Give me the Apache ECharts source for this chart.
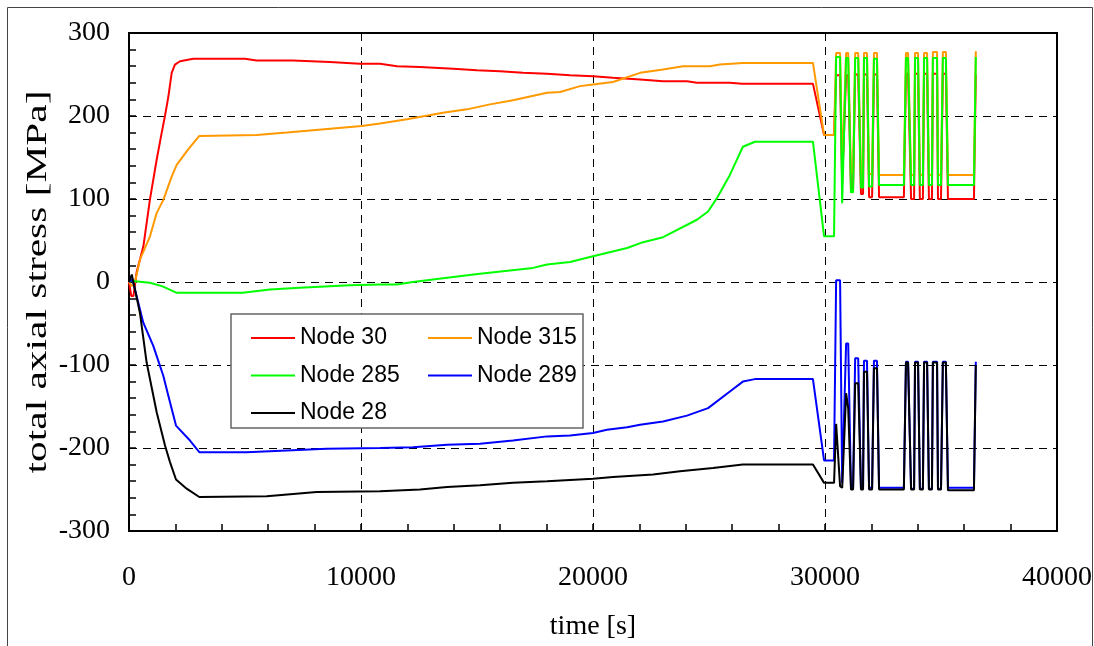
<!DOCTYPE html>
<html>
<head>
<meta charset="utf-8">
<script src="https://cdn.jsdelivr.net/npm/echarts@6/dist/echarts.min.js"></script>
<style>html,body{margin:0;padding:0;background:#fff;}#c{width:1094px;height:646px;}</style>
</head>
<body>
<div id="c"></div>
<script>
// ---- data ----
const xTicks = [0, 10000, 20000, 30000, 40000];
const yTicks = [-300, -200, -100, 0, 100, 200, 300];
const seriesNames = ['Node 30', 'Node 315', 'Node 285', 'Node 289', 'Node 28'];

// ramp phase (time [s], stress [MPa])
const node30T = [0,100,190,330,620,900,1190,1410,1550,1700,1840,1980,2200,2770,5000,5500,7060,8650,9950,10820,11550,12540,13970,15000,15990,16980,18020,19010,20000,20860,22030,23020,24050,24480,25900,26420,29480,29960,30390];
const node30V = [0,-17,-17,12,43,99,147,180,200,224,252,262,266,269,269,267,267,265,263,263,260,259,257,255,254,252,251,249,248,246,244,242,242,240,240,239,239,177,177];

const node315T = [0,115,260,470,905,1190,1480,1840,2055,2560,3030,5500,6800,8800,10030,10820,11980,13530,14570,15560,16550,18020,18580,19440,20000,20860,22030,23020,23880,25040,25470,26460,29480,29960,30390];
const node315V = [0,-5,0,27,55,83,99,127,141,160,176,177,180,185,188,191,196,204,208,214,219,228,229,236,238,241,252,256,260,260,262,264,264,177,177];

const node285T = [0,100,260,900,1420,2060,4900,6070,7360,9500,10820,11550,12240,13970,15130,17410,18020,19010,20000,21470,22160,23020,24480,24960,25340,25900,26460,26980,29480,29960,30390];
const node285V = [0,2,1,-1,-5,-13,-13,-9,-7,-4,-3,-3,0,6,10,17,21,24,31,41,48,54,75,85,101,129,163,169,169,55,55];

const node289T = [0,150,616,1047,1478,1767,2026,2629,3030,5073,8520,10820,12240,13710,15130,16550,18020,19010,20000,20600,21470,22030,23020,24050,24960,25900,26460,26980,29480,29960,30390];
const node289V = [0,3,-49,-77,-113,-145,-173,-191,-205,-205,-201,-200,-199,-196,-195,-191,-186,-185,-182,-178,-175,-172,-168,-161,-152,-132,-120,-117,-117,-215,-215];

const node28T = [0,120,470,760,1193,1552,1767,2026,2486,3030,5935,8090,10820,12540,13710,15130,16550,18020,20000,20860,22590,23750,25170,26460,29480,29960,30390];
const node28V = [0,9,-37,-97,-157,-197,-217,-238,-249,-259,-258,-253,-252,-250,-247,-245,-242,-240,-237,-235,-232,-228,-224,-220,-220,-242,-242];

// cyclic phase: shared time points
const cycT = [30480,30650,30740,30780,30910,31000,31120,31210,31300,31430,31550,31640,31680,31810,31900,32030,32110,32240,32330,33400,33490,33580,33710,33840,33880,34010,34090,34220,34270,34400,34480,34610,34650,34830,34870,35000,35080,35210,35300,36420,36500];
const node30Cyc  = [249,249,120,120,249,249,112,112,250,250,106,106,250,250,102,102,250,250,102,102,251,251,100,100,251,251,100,100,251,251,100,100,251,251,100,100,251,251,100,100,250];
const node315Cyc = [276,276,135,135,276,276,131,131,276,276,130,130,276,276,130,130,276,276,129,129,276,276,129,129,276,276,129,129,276,276,129,129,277,277,129,129,277,277,129,129,278];
const node285Cyc = [271,271,95,95,270,270,108,108,270,270,114,114,270,270,115,115,269,269,117,117,270,270,117,117,270,270,117,117,270,270,117,117,270,270,117,117,270,270,117,117,271];
const node289Cyc = [2,2,-242,-242,-74,-74,-248,-248,-92,-92,-248,-248,-95,-95,-248,-248,-95,-95,-248,-248,-96,-96,-249,-249,-96,-96,-249,-249,-96,-96,-249,-249,-96,-96,-249,-249,-96,-96,-248,-248,-96];
const node28Cyc  = [-171,-246,-248,-248,-134,-152,-250,-250,-122,-122,-250,-250,-108,-108,-250,-250,-104,-104,-250,-250,-97,-97,-250,-250,-97,-97,-250,-250,-97,-97,-250,-250,-97,-97,-250,-250,-97,-97,-251,-251,-100];

const colors = ['#ff0000', '#ff9900', '#00ff00', '#0000ff', '#000000'];

function build(T, V, cyc) {
  const d = T.map((t, i) => [t, V[i]]);
  cycT.forEach((t, i) => d.push([t, cyc[i]]));
  return d;
}
const allData = [
  build(node30T, node30V, node30Cyc),
  build(node315T, node315V, node315Cyc),
  build(node285T, node285V, node285Cyc),
  build(node289T, node289V, node289Cyc),
  build(node28T, node28V, node28Cyc)
];

const serif = 'Liberation Serif';
const sans = 'Liberation Sans';

const chart = echarts.init(document.getElementById('c'), null, {renderer: 'canvas'});
const legendCommon = {
  orient: 'vertical', top: 321, itemWidth: 44, itemHeight: 2, itemGap: 13.5,
  icon: 'rect', selectedMode: false, z: 10,
  textStyle: {fontFamily: sans, fontSize: 23, lineHeight: 24, color: '#000'}
};
chart.setOption({
  animation: false,
  backgroundColor: '#ffffff',
  grid: {left: 129, right: 37, top: 33, bottom: 115, outerBoundsMode: 'none', containLabel: false,
         show: true, borderColor: '#000', borderWidth: 2, backgroundColor: 'transparent'},
  xAxis: {
    type: 'value', min: xTicks[0], max: xTicks[xTicks.length - 1], interval: 10000,
    axisLine: {show: true, onZero: false, lineStyle: {color: '#000', width: 2}},
    axisTick: {show: true, inside: true, length: 7, lineStyle: {color: '#000', width: 1.5}},
    minorTick: {show: true, splitNumber: 5, length: 7, lineStyle: {color: '#000', width: 1.5}},
    splitLine: {show: true, lineStyle: {color: '#000', type: [8, 6], width: 1}},
    axisLabel: {color: '#000', fontFamily: serif, fontSize: 28, margin: 33, formatter: v => String(v)},
    name: 'time [s]', nameLocation: 'middle', nameGap: 82,
    nameTextStyle: {color: '#000', fontFamily: serif, fontSize: 28}
  },
  yAxis: {
    type: 'value', min: yTicks[0], max: yTicks[yTicks.length - 1], interval: 100,
    axisLine: {show: true, onZero: false, lineStyle: {color: '#000', width: 2}},
    axisTick: {show: true, inside: true, length: 7, lineStyle: {color: '#000', width: 1.5}},
    minorTick: {show: true, splitNumber: 5, length: 7, lineStyle: {color: '#000', width: 1.5}},
    splitLine: {show: true, lineStyle: {color: '#000', type: [8, 6], width: 1}},
    axisLabel: {color: '#000', fontFamily: serif, fontSize: 28, margin: 19, formatter: v => String(v)}
  },
  legend: [
    Object.assign({left: 246, data: [seriesNames[0], seriesNames[2], seriesNames[4]]}, legendCommon),
    Object.assign({left: 423, data: [seriesNames[1], seriesNames[3]]}, legendCommon)
  ],
  graphic: [
    {type: 'rect', z: 0, silent: true, shape: {x: 7.5, y: 7.5, width: 1085, height: 660}, style: {fill: 'none', stroke: '#444', lineWidth: 1}},
    {type: 'rect', z: 3, silent: true, shape: {x: 231, y: 314, width: 352, height: 114}, style: {fill: '#fff', stroke: '#666', lineWidth: 1.5}},
    {type: 'text', z: 10, silent: true, x: 38, y: 282, rotation: Math.PI / 2, scaleX: 1.38,
     style: {text: 'total axial stress [MPa]', font: '30px "Liberation Serif"', fill: '#000', align: 'center', verticalAlign: 'middle'}}
  ],
  series: seriesNames.map((n, i) => ({
    name: n, type: 'line', symbol: 'none', showSymbol: false, z: 2 + i * 0.01,
    color: colors[i],
    lineStyle: {color: colors[i], width: 2},
    data: allData[i]
  }))
});
</script>
</body>
</html>
